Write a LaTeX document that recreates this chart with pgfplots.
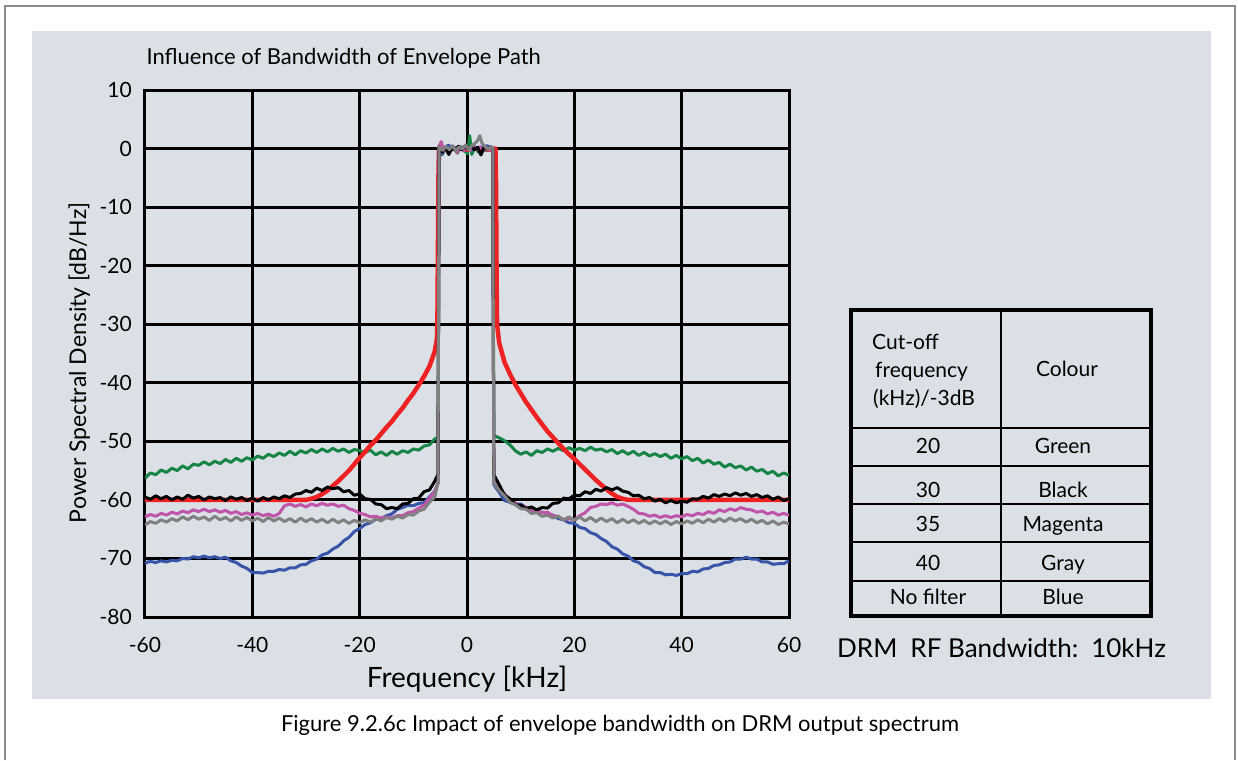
\documentclass[border=0pt]{standalone}
\usepackage{pgfplots}
\pgfplotsset{compat=1.18}
\usepackage{fontspec}
\setmainfont{Lato}
\definecolor{panel}{RGB}{218,224,230}
\definecolor{cgreen}{RGB}{22,132,68}
\definecolor{cmag}{RGB}{192,84,168}
\definecolor{cblue}{RGB}{56,84,168}
\definecolor{cgray}{RGB}{128,128,128}
\definecolor{cred}{RGB}{238,34,34}
\definecolor{framegray}{RGB}{140,140,140}
\pgfdeclarelayer{background}
\pgfsetlayers{background,main}

\begin{document}
\begin{tikzpicture}[x=1pt,y=1pt]
\begin{axis}[
  scale only axis,
  width=644pt, height=527pt,
  xmin=-60, xmax=60, ymin=-80, ymax=10,
  xtick={-60,-40,-20,0,20,40,60},
  xticklabels={-60,-40,-20,0,20,40,60},
  ytick={-80,-70,-60,-50,-40,-30,-20,-10,0},
  yticklabels={-80,-70,-60,-50,-40,-30,-20,-10,0},
  extra y ticks={10}, extra y tick labels={10},
  extra y tick style={grid style={line width=0.8pt, densely dotted, black}},
  grid=major,
  major grid style={line width=3pt, black, line cap=rect},
  axis line style={draw=none},
  tick style={draw=none},
  tick label style={font=\fontsize{21}{25}\selectfont, inner sep=0pt},
  yticklabel style={anchor=east, xshift=-13pt},
  xticklabel style={anchor=north, yshift=-20pt},
  xlabel={Frequency [kHz]},
  xlabel style={font=\fontsize{28}{32}\selectfont, at={(axis description cs:0.5,-0.1347)}, anchor=base, inner sep=0pt},
  ylabel={Power Spectral Density [dB/Hz]},
  ylabel style={font=\fontsize{23}{27}\selectfont, at={(axis description cs:-0.0916,0.482)}, anchor=base, inner sep=0pt},
  clip=true,
]
% 20 kHz cut-off
\addplot[cgreen, line width=3pt, line join=round] coordinates {
(-60,-56.3) (-59,-55.4) (-58,-55.7) (-57,-54.9) (-56,-55.3) (-55,-54.6) (-54,-55.0) (-53,-54.2) (-52,-54.7) (-51,-53.9)
(-50,-54.1) (-49,-53.5) (-48,-54.0) (-47,-53.4) (-46,-53.8) (-45,-53.1) (-44,-53.6) (-43,-52.9) (-42,-53.4) (-41,-52.8)
(-40,-53.2) (-39,-52.5) (-38,-52.9) (-37,-52.2) (-36,-52.6) (-35,-52.0) (-34,-52.4) (-33,-51.7) (-32,-52.3) (-31,-51.6)
(-30,-52.0) (-29,-51.4) (-28,-51.9) (-27,-51.3) (-26,-51.8) (-25,-51.2) (-24,-51.7) (-23,-51.3) (-22,-51.9) (-21,-51.4)
(-20,-51.6) (-19,-51.9) (-18,-51.5) (-17,-52.3) (-16,-51.8) (-15,-52.4) (-14,-51.7) (-13,-52.2) (-12,-51.6) (-11,-51.9)
(-10,-51.3) (-9,-51.5) (-8,-50.8) (-7,-50.6) (-6,-49.6) (-5.4,-49.3)
(-5.2,0.2) (-4.7,-1.1) (-4.2,-0.4) (-3.6,0.5) (-3.0,-0.3) (-2.4,0.2) (-1.8,-0.8) (-1.2,0.3) (-0.6,-0.2) (0.1,-0.9)
(0.5,2.2) (0.9,-1.0) (1.5,0.3) (2.1,-0.6) (2.7,0.2) (3.3,-0.4) (3.9,0.1) (4.4,-0.3) (4.8,0.1)
(5.0,-49.0) (6,-49.4) (7,-49.9) (8,-50.6) (9,-51.6) (10,-52.2) (11,-51.8) (12,-52.4) (13,-51.6) (14,-51.9)
(15,-51.3) (16,-51.7) (17,-51.2) (18,-51.6) (19,-51.1) (20,-51.5) (21,-51.2) (22,-51.6) (23,-51.0) (24,-51.5)
(25,-51.3) (26,-51.8) (27,-51.4) (28,-52.1) (29,-51.6) (30,-52.2) (31,-51.7) (32,-52.4) (33,-51.9) (34,-52.5)
(35,-52.1) (36,-52.6) (37,-52.2) (38,-52.9) (39,-52.4) (40,-53.0) (41,-52.6) (42,-53.3) (43,-52.9) (44,-53.7)
(45,-53.2) (46,-53.9) (47,-53.6) (48,-54.4) (49,-53.9) (50,-54.5) (51,-54.2) (52,-54.9) (53,-54.4) (54,-55.1)
(55,-54.8) (56,-55.5) (57,-55.1) (58,-55.9) (59,-55.4) (60,-55.8)
};
% envelope path without limiting (reference)
\addplot[cred, line width=4.5pt, line join=round] coordinates {
(-60,-60) (-50,-60) (-40,-60) (-30,-60) (-29,-59.8) (-28,-59.5) (-27,-59.0) (-26,-58.4) (-25,-57.6) (-24,-56.8)
(-23,-55.9) (-22,-55.0) (-21,-53.9) (-20,-52.8) (-19,-51.8) (-18,-50.7) (-17,-49.8) (-16,-48.7) (-15,-47.6) (-14,-46.6)
(-13,-45.4) (-12,-44.3) (-11,-43.0) (-10,-41.8) (-9,-40.4) (-8,-38.9) (-7,-37.2) (-6,-34.6) (-5.6,-32.5) (-5.5,-28)
(-5.4,-15) (-5.3,-3) (-5.2,0.1) (-4,-0.2) (-3,0.2) (-2,-0.1) (-1,0.1) (0,-0.2) (1,0.2) (2,-0.1) (3,0.1) (4,-0.2) (5.3,0)
(5.4,-5) (5.5,-20) (5.6,-30) (6,-33.2) (7,-36.5) (8,-38.5) (9,-40.3) (10,-41.8) (11,-43.3) (12,-44.6) (13,-45.9)
(14,-47.1) (15,-48.3) (16,-49.3) (17,-50.3) (18,-51.3) (19,-52.2) (20,-53.0) (21,-53.9) (22,-54.8) (23,-55.7)
(24,-56.6) (25,-57.4) (26,-58.2) (27,-58.9) (28,-59.5) (29,-59.8) (30,-60) (40,-60) (50,-60) (60,-60)
};
% no filter
\addplot[cblue, line width=3pt, line join=round] coordinates {
(-60,-70.8) (-59,-70.5) (-58,-70.7) (-57,-70.4) (-56,-70.6) (-55,-70.3) (-54,-70.4) (-53,-70.0) (-52,-70.1) (-51,-69.7)
(-50,-69.9) (-49,-69.6) (-48,-69.9) (-47,-69.7) (-46,-70.0) (-45,-69.8) (-44,-70.4) (-43,-70.7) (-42,-71.3) (-41,-71.7)
(-40,-72.4) (-39,-72.4) (-38,-72.5) (-37,-72.2) (-36,-72.2) (-35,-71.9) (-34,-72.0) (-33,-71.6) (-32,-71.6) (-31,-71.1)
(-30,-71.0) (-29,-70.4) (-28,-70.1) (-27,-69.4) (-26,-69.1) (-25,-68.4) (-24,-67.9) (-23,-67.0) (-22,-66.4) (-21,-65.4)
(-20,-64.9) (-19,-64.2) (-18,-63.9) (-17,-63.3) (-16,-63.2) (-15,-62.7) (-14,-62.4) (-13,-61.6) (-12,-61.3) (-11,-60.9)
(-10,-61.0) (-9,-60.6) (-8,-60.5) (-7,-59.5) (-6,-58.5) (-5.4,-57.1)
(-5.2,0.1) (-4.6,-0.9) (-4.0,0.3) (-3.4,0.6) (-2.8,-0.2) (-2.2,0.2) (-1.6,-0.3) (-1.0,0.3) (-0.4,-0.2) (0.2,0.3)
(0.8,-0.3) (1.4,0.2) (2.0,-0.2) (2.6,0.3) (3.2,-0.1) (3.6,0.5) (4.2,0.3) (4.8,0.1)
(5.0,-57.4) (6,-58.7) (7,-60.1) (8,-60.4) (9,-60.8) (10,-60.7) (11,-61.3) (12,-61.5) (13,-62.1) (14,-62.1)
(15,-62.4) (16,-62.6) (17,-63.2) (18,-63.4) (19,-63.9) (20,-64.0) (21,-64.7) (22,-64.9) (23,-65.6) (24,-65.9)
(25,-66.6) (26,-67.1) (27,-68.0) (28,-68.4) (29,-69.2) (30,-69.6) (31,-70.4) (32,-70.7) (33,-71.4) (34,-71.7)
(35,-72.4) (36,-72.4) (37,-72.8) (38,-72.7) (39,-72.9) (40,-72.6) (41,-72.6) (42,-72.2) (43,-72.3) (44,-71.8)
(45,-71.7) (46,-71.2) (47,-71.1) (48,-70.7) (49,-70.6) (50,-70.1) (51,-70.1) (52,-69.8) (53,-70.1) (54,-70.1)
(55,-70.6) (56,-70.6) (57,-71.0) (58,-70.9) (59,-70.9) (60,-70.4)
};
% 35 kHz cut-off
\addplot[cmag, line width=3pt, line join=round] coordinates {
(-60,-62.9) (-59,-62.5) (-58,-62.8) (-57,-62.3) (-56,-62.6) (-55,-62.1) (-54,-62.4) (-53,-61.9) (-52,-62.2) (-51,-61.7)
(-50,-62.0) (-49,-61.6) (-48,-62.0) (-47,-61.7) (-46,-62.1) (-45,-61.8) (-44,-62.3) (-43,-62.0) (-42,-62.5) (-41,-62.2)
(-40,-62.6) (-39,-62.3) (-38,-62.7) (-37,-62.4) (-36,-62.8) (-35,-62.3) (-34,-61.0) (-33,-60.7) (-32,-61.1) (-31,-60.8)
(-30,-61.2) (-29,-60.7) (-28,-61.0) (-27,-60.6) (-26,-60.9) (-25,-60.7) (-24,-61.1) (-23,-60.9) (-22,-61.5) (-21,-61.8)
(-20,-62.3) (-19,-62.5) (-18,-62.9) (-17,-62.8) (-16,-63.1) (-15,-62.9) (-14,-63.1) (-13,-62.7) (-12,-62.7) (-11,-62.2)
(-10,-62.0) (-9,-61.4) (-8,-60.9) (-7,-59.7) (-6,-58.6) (-5.4,-57.2)
(-5.2,0.4) (-4.8,1.2) (-4.3,-0.5) (-3.7,0.2) (-3.1,-0.3) (-2.5,0.3) (-1.9,-0.7) (-1.3,0.2) (-0.7,-0.4) (0,0.2)
(0.6,-0.3) (1.2,0.4) (1.8,-0.2) (2.4,0.3) (3.0,-0.4) (3.6,0.2) (4.2,-0.3) (4.8,0.2)
(5.0,-57.0) (6,-58.1) (7,-58.9) (8,-60.1) (9,-60.5) (10,-61.1) (11,-61.2) (12,-61.8) (13,-61.8) (14,-62.2)
(15,-62.1) (16,-62.7) (17,-62.8) (18,-63.4) (19,-63.2) (20,-63.4) (21,-62.7) (22,-62.2) (23,-61.3) (24,-61.1)
(25,-60.7) (26,-60.8) (27,-60.5) (28,-60.9) (29,-60.7) (30,-61.1) (31,-61.6) (32,-62.3) (33,-62.4) (34,-62.8)
(35,-62.6) (36,-63.0) (37,-62.7) (38,-63.0) (39,-62.7) (40,-62.9) (41,-62.5) (42,-62.7) (43,-62.3) (44,-62.5)
(45,-62.0) (46,-62.3) (47,-61.7) (48,-62.0) (49,-61.5) (50,-61.8) (51,-61.3) (52,-61.6) (53,-61.7) (54,-62.1)
(55,-61.9) (56,-62.4) (57,-62.1) (58,-62.6) (59,-62.3) (60,-62.6)
};
% 30 kHz cut-off
\addplot[black, line width=3pt, line join=round] coordinates {
(-60,-59.5) (-59,-59.9) (-58,-59.3) (-57,-59.8) (-56,-59.4) (-55,-60.0) (-54,-59.5) (-53,-59.9) (-52,-59.2) (-51,-59.7)
(-50,-59.4) (-49,-60.0) (-48,-59.5) (-47,-59.8) (-46,-59.6) (-45,-60.1) (-44,-59.5) (-43,-59.9) (-42,-59.6) (-41,-60.1)
(-40,-59.7) (-39,-60.2) (-38,-59.6) (-37,-60.0) (-36,-59.5) (-35,-59.8) (-34,-59.3) (-33,-59.6) (-32,-59.0) (-31,-58.9)
(-30,-58.4) (-29,-58.7) (-28,-58.0) (-27,-58.4) (-26,-57.8) (-25,-58.1) (-24,-57.9) (-23,-58.6) (-22,-58.4) (-21,-59.2)
(-20,-59.0) (-19,-59.8) (-18,-59.9) (-17,-60.7) (-16,-60.8) (-15,-61.5) (-14,-61.3) (-13,-61.5) (-12,-60.7) (-11,-60.6)
(-10,-59.8) (-9,-59.7) (-8,-58.6) (-7,-58.3) (-6,-56.8) (-5.4,-55.6)
(-5.2,0.3) (-4.6,-0.6) (-4.0,0.2) (-3.4,-1.0) (-2.8,0.1) (-2.2,-0.3) (-1.6,0.4) (-1.0,-0.2) (-0.4,0.3) (0.2,-0.1)
(0.8,0.4) (1.4,-0.2) (2.0,0.2) (2.6,-1.1) (3.2,0.3) (3.8,-0.2) (4.4,0.3) (4.8,0.1)
(5.0,-55.7) (6,-57.4) (7,-59.2) (8,-59.8) (9,-60.8) (10,-60.9) (11,-61.5) (12,-61.2) (13,-61.7) (14,-61.3)
(15,-61.4) (16,-60.6) (17,-60.5) (18,-59.7) (19,-59.8) (20,-59.2) (21,-59.3) (22,-58.6) (23,-58.9) (24,-58.2)
(25,-58.5) (26,-57.9) (27,-58.3) (28,-57.9) (29,-58.5) (30,-58.7) (31,-59.3) (32,-59.2) (33,-59.8) (34,-59.6)
(35,-60.2) (36,-59.9) (37,-60.5) (38,-60.1) (39,-60.5) (40,-60.2) (41,-60.4) (42,-59.8) (43,-59.9) (44,-59.4)
(45,-59.7) (46,-59.1) (47,-59.4) (48,-59.0) (49,-59.3) (50,-58.8) (51,-59.2) (52,-58.9) (53,-59.4) (54,-59.1)
(55,-59.6) (56,-59.3) (57,-59.9) (58,-59.5) (59,-60.1) (60,-59.8)
};
% 40 kHz cut-off
\addplot[cgray, line width=3pt, line join=round] coordinates {
(-60,-64.3) (-59,-63.7) (-58,-64.0) (-57,-63.4) (-56,-63.8) (-55,-63.2) (-54,-63.6) (-53,-62.9) (-52,-63.4) (-51,-62.8)
(-50,-63.3) (-49,-62.9) (-48,-63.5) (-47,-62.8) (-46,-63.4) (-45,-63.0) (-44,-63.6) (-43,-62.9) (-42,-63.5) (-41,-63.0)
(-40,-63.6) (-39,-63.1) (-38,-63.7) (-37,-63.0) (-36,-63.6) (-35,-63.1) (-34,-63.7) (-33,-63.2) (-32,-63.8) (-31,-63.1)
(-30,-63.7) (-29,-63.2) (-28,-63.8) (-27,-63.3) (-26,-63.9) (-25,-63.3) (-24,-63.9) (-23,-63.4) (-22,-64.0) (-21,-63.5)
(-20,-63.9) (-19,-63.4) (-18,-63.8) (-17,-63.2) (-16,-63.6) (-15,-63.0) (-14,-63.3) (-13,-62.8) (-12,-63.1) (-11,-62.5)
(-10,-62.6) (-9,-61.9) (-8,-61.6) (-7,-60.4) (-6,-59.5) (-5.4,-57.0)
(-5.2,0.3) (-4.5,-0.3) (-3.9,0.4) (-3.3,-0.2) (-2.7,0.5) (-2.1,-0.4) (-1.5,0.3) (-0.9,-0.1) (-0.3,0.6) (0.3,-0.2)
(0.9,0.5) (1.5,0.9) (2.0,1.4) (2.4,2.2) (2.8,0.9) (3.3,0.4) (3.9,-0.2) (4.4,0.3) (4.8,0.2)
(5.0,-57.1) (6,-58.4) (7,-59.3) (8,-60.4) (9,-60.8) (10,-61.5) (11,-61.6) (12,-62.3) (13,-62.2) (14,-62.8)
(15,-62.6) (16,-63.1) (17,-62.8) (18,-63.4) (19,-62.9) (20,-63.5) (21,-62.9) (22,-63.6) (23,-63.0) (24,-63.7)
(25,-63.1) (26,-63.7) (27,-63.2) (28,-63.9) (29,-63.3) (30,-63.9) (31,-63.4) (32,-64.0) (33,-63.5) (34,-64.1)
(35,-63.6) (36,-64.1) (37,-63.6) (38,-64.2) (39,-63.7) (40,-64.1) (41,-63.6) (42,-64.0) (43,-63.4) (44,-63.9)
(45,-63.3) (46,-63.8) (47,-63.2) (48,-63.7) (49,-63.1) (50,-63.6) (51,-63.2) (52,-63.8) (53,-63.3) (54,-63.9)
(55,-63.5) (56,-64.1) (57,-63.6) (58,-64.2) (59,-63.8) (60,-64.1)
};
\coordinate (boxSW) at (rel axis cs:0,0);
\end{axis}

% page furniture, laid out from the lower-left corner of the plot box
\begin{scope}[shift={(boxSW)}, xshift=-145pt, yshift=-143pt]
\path (0,0) rectangle (1238,760);
\begin{pgfonlayer}{background}
\fill[panel] (32,61) rectangle (1211,729);
\end{pgfonlayer}
\draw[framegray, line width=1.5pt] (5,0) -- (5,754) -- (1235,754) -- (1235,0);

\node[anchor=base west, font=\fontsize{22}{26}\selectfont] at (143,695) {Influence of Bandwidth of Envelope Path};

% key table
\draw[line width=4pt] (851,144) rectangle (1151,450);
\draw[line width=2.5pt] (1001,144) -- (1001,450);
\foreach \yy in {332,294,256,218,179} \draw[line width=2.5pt] (851,\yy) -- (1151,\yy);
\begin{scope}[every node/.style={font=\fontsize{21}{25}\selectfont, inner sep=0pt}]
\node[anchor=base west] at (872,410) {Cut-off};
\node[anchor=base west] at (875,383) {frequency};
\node[anchor=base west] at (873,355) {(kHz)/-3dB};
\node[anchor=base] at (1067,384) {Colour};
\node[anchor=base] at (928,307) {20};
\node[anchor=base] at (1063,307) {Green};
\node[anchor=base] at (928,263) {30};
\node[anchor=base] at (1063,263) {Black};
\node[anchor=base] at (928,229) {35};
\node[anchor=base] at (1063,229) {Magenta};
\node[anchor=base] at (928,190) {40};
\node[anchor=base] at (1063,190) {Gray};
\node[anchor=base] at (928,156) {No filter};
\node[anchor=base] at (1063,156) {Blue};
\end{scope}
\node[anchor=base west, inner sep=0pt, font=\fontsize{26}{30}\selectfont] at (837,103) {DRM\enspace RF Bandwidth:\enspace 10kHz};

\node[anchor=base, inner sep=0pt, font=\fontsize{22}{26}\selectfont] at (620,29) {Figure 9.2.6c Impact of envelope bandwidth on DRM output spectrum};
\end{scope}
\end{tikzpicture}
\end{document}
